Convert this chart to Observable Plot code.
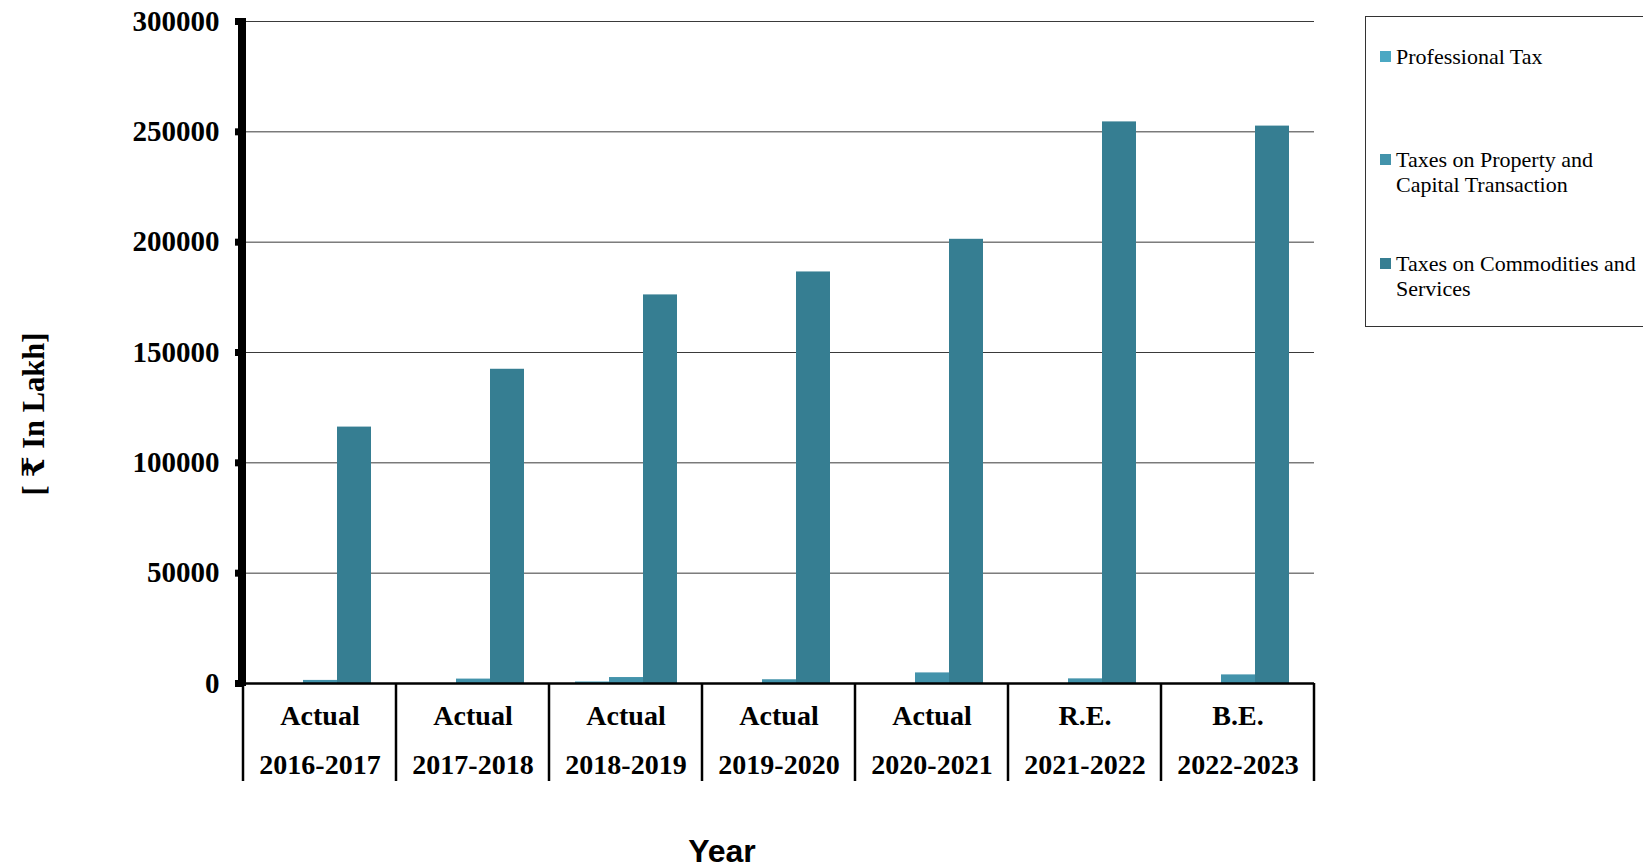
<!DOCTYPE html>
<html>
<head>
<meta charset="utf-8">
<script src="https://cdn.jsdelivr.net/npm/d3@7"></script>
<script src="https://cdn.jsdelivr.net/npm/@observablehq/plot@0.6"></script>
<style>
  html, body { margin: 0; padding: 0; background: #fff; }
  #wrap { position: relative; width: 1643px; height: 868px; overflow: hidden; background: #fff; }
  #wrap svg { position: absolute; left: 0; top: 0; }
  .ytitle { position: absolute; left: 33px; top: 414px; transform: translate(-50%, -50%) rotate(-90deg);
    font: bold 30.5px "Liberation Serif", "DejaVu Serif", serif; white-space: nowrap; color: #000; }
  .xtitle { position: absolute; left: 722px; top: 851px; transform: translate(-50%, -50%);
    font: bold 32px "Liberation Sans", Arial, sans-serif; white-space: nowrap; color: #000; }
  .legend { position: absolute; left: 1365px; top: 16px; width: 300px; height: 311px;
    border: 1px solid #333; background: #fff; box-sizing: border-box; }
  .item { position: absolute; left: 14px; font: 22px "Liberation Serif", serif; line-height: 25px; color: #000; white-space: pre; }
  .sw { position: absolute; left: 0; top: 7px; width: 11px; height: 11px; }
  .lbl { position: absolute; left: 16px; top: 0; }
</style>
</head>
<body>
<div id="wrap"></div>
<script>
// ---- data ----
const categoryTop = ["Actual", "Actual", "Actual", "Actual", "Actual", "R.E.", "B.E."];
const categoryYears = ["2016-2017", "2017-2018", "2018-2019", "2019-2020", "2020-2021", "2021-2022", "2022-2023"];
const series = ["Professional Tax", "Taxes on Property and Capital Transaction", "Taxes on Commodities and Services"];
const legendLabels = ["Professional Tax", "Taxes on Property and\nCapital Transaction", "Taxes on Commodities and\nServices"];
const professionalTax = [0, 0, 700, 0, 0, 0, 0];
const propertyTaxes = [1400, 2000, 2700, 1700, 4800, 2100, 3900];
const commodityTaxes = [116200, 142400, 176100, 186500, 201300, 254500, 252600];
const yTicks = [0, 50000, 100000, 150000, 200000, 250000, 300000];
const colors = ["#4BA8C3", "#4393AB", "#367E92"];

const categories = categoryTop.map((t, i) => t + " " + categoryYears[i]);
const seriesValues = [professionalTax, propertyTaxes, commodityTaxes];
const data = [];
categories.forEach((c, i) => {
  series.forEach((s, j) => data.push({cat: c, series: s, value: seriesValues[j][i]}));
});

const chart = Plot.plot({
  width: 1643,
  height: 868,
  marginTop: 21,
  marginBottom: 185,
  marginLeft: 242,
  marginRight: 329,
  style: {fontFamily: "'Liberation Serif', 'Times New Roman', serif", background: "white", color: "#000"},
  fx: {domain: categories, padding: 0, axis: null},
  x: {domain: series, paddingInner: 0, paddingOuter: 0.75, axis: null},
  y: {domain: [0, 300000], axis: null},
  color: {domain: series, range: colors},
  marks: [
    Plot.gridY(yTicks, {stroke: "#3a3a3a", strokeOpacity: 1, strokeWidth: 1}),
    Plot.barY(data, {fx: "cat", x: "series", y: "value", fill: "series"}),
    Plot.ruleY([0], {stroke: "#000", strokeWidth: 2.5}),
    Plot.axisY(yTicks, {tickSize: 8, strokeWidth: 7, stroke: "#000", tickPadding: 16, label: null,
      tickFormat: d => String(d), fontSize: 29, fontWeight: "bold"}),
    Plot.text(categoryTop, {fx: categories, text: categoryTop, frameAnchor: "bottom", dy: 33,
      lineAnchor: "middle", fontSize: 28, fontWeight: "bold", fill: "#000"}),
    Plot.text(categoryYears, {fx: categories, text: categoryYears, frameAnchor: "bottom", dy: 82,
      lineAnchor: "middle", fontSize: 28, fontWeight: "bold", fill: "#000"})
  ]
});

const wrap = document.getElementById("wrap");
wrap.appendChild(chart);

// decorations from the library's scales
const fx = chart.scale("fx");
const y = chart.scale("y");
const svg = d3.select(chart);
const y0 = y.apply(0), yTop = y.apply(300000);
const left = fx.range[0];
const bounds = categories.map(c => fx.apply(c)).concat([fx.range[1]]);
const g = svg.append("g");
bounds.forEach(b => {
  g.append("line").attr("x1", b).attr("x2", b).attr("y1", y0).attr("y2", y0 + 98)
    .attr("stroke", "#000").attr("stroke-width", 2.5);
});
g.append("line").attr("x1", left).attr("x2", left).attr("y1", yTop - 3).attr("y2", y0 + 3)
  .attr("stroke", "#000").attr("stroke-width", 8);

// titles
const yt = document.createElement("div");
yt.className = "ytitle"; yt.textContent = "[ ₹ In Lakh]";
wrap.appendChild(yt);
const xt = document.createElement("div");
xt.className = "xtitle"; xt.textContent = "Year";
wrap.appendChild(xt);

// legend
const leg = document.createElement("div");
leg.className = "legend";
const tops = [27, 130, 234];
series.forEach((s, i) => {
  const it = document.createElement("div");
  it.className = "item";
  it.style.top = tops[i] + "px";
  const sw = document.createElement("div");
  sw.className = "sw"; sw.style.background = colors[i];
  const lb = document.createElement("div");
  lb.className = "lbl"; lb.textContent = legendLabels[i];
  it.appendChild(sw); it.appendChild(lb);
  leg.appendChild(it);
});
wrap.appendChild(leg);
</script>
</body>
</html>
